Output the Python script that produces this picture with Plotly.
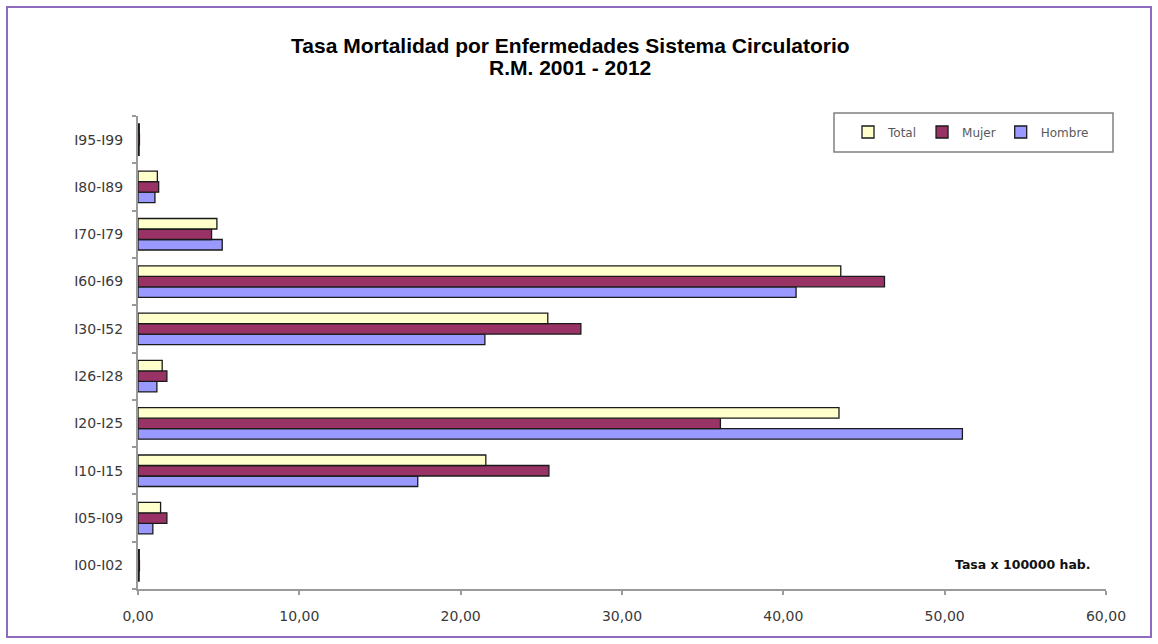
import plotly.graph_objects as go

# Cause-of-death groups (ICD-10 ranges), bottom to top
categorias = ["I00-I02", "I05-I09", "I10-I15", "I20-I25", "I26-I28",
              "I30-I52", "I60-I69", "I70-I79", "I80-I89", "I95-I99"]

# Rates per 100000 inhabitants
total = [0.08, 1.40, 21.56, 43.45, 1.50, 25.40, 43.56, 4.89, 1.20, 0.08]
mujer = [0.09, 1.79, 25.47, 36.10, 1.79, 27.45, 46.27, 4.56, 1.28, 0.09]
hombre = [0.07, 0.92, 17.34, 51.10, 1.17, 21.50, 40.79, 5.22, 1.05, 0.07]

series = [("Hombre", hombre, "#9999FF"),
          ("Mujer", mujer, "#993366"),
          ("Total", total, "#FFFFCC")]

W, H = 1158, 644
L, R, T, B = 138, 52, 116, 55
PW, PH = W - L - R, H - T - B


def px_x(x):
    return (x - L) / PW


def px_y(y):
    return (H - B - y) / PH


fig = go.Figure()
for nombre, valores, color in series:
    fig.add_trace(go.Bar(
        name=nombre, y=categorias, x=valores, orientation="h",
        marker=dict(color=color, line=dict(color="#1a1a1a", width=1.3)),
    ))

fig.update_layout(
    width=W, height=H, autosize=False,
    margin=dict(l=L, r=R, t=T, b=B, pad=0),
    paper_bgcolor="white", plot_bgcolor="white",
    barmode="group", bargap=0.333, bargroupgap=0,
    separators=",.",
    showlegend=True,
    legend=dict(
        orientation="h", traceorder="reversed",
        x=px_x(848), y=px_y(132), xanchor="left", yanchor="middle",
        bgcolor="rgba(0,0,0,0)", borderwidth=0,
        font=dict(family="DejaVu Sans", size=12, color="#5a5a5a"),
        itemclick=False,
    ),
    xaxis=dict(
        range=[0, 60], dtick=10, tickformat=".2f",
        showgrid=False, zeroline=False,
        showline=True, linecolor="#9a9a9a", linewidth=2,
        ticks="outside", ticklen=4, tickcolor="#9a9a9a", tickwidth=1.5,
        tickfont=dict(family="DejaVu Sans", size=14, color="#3a3a3a"),
        ticklabelstandoff=9,
    ),
    yaxis=dict(
        type="category", categoryorder="array", categoryarray=categorias,
        showgrid=False, zeroline=False,
        showline=True, linecolor="#9a9a9a", linewidth=2,
        ticks="outside", ticklen=4, tickcolor="#9a9a9a", tickwidth=1.5,
        tickson="boundaries",
        tickfont=dict(family="DejaVu Sans", size=14, color="#3a3a3a"),
        ticklabelstandoff=10,
    ),
    shapes=[
        # outer frame
        dict(type="rect", xref="paper", yref="paper",
             x0=px_x(7), x1=px_x(1151), y0=px_y(637), y1=px_y(7),
             line=dict(color="#8E6BBF", width=2), layer="below"),
        # legend box
        dict(type="rect", xref="paper", yref="paper",
             x0=px_x(834), x1=px_x(1113), y0=px_y(152), y1=px_y(113),
             line=dict(color="#808080", width=1.5), fillcolor="white",
             layer="below"),
    ],
    annotations=[
        dict(text="<b>Tasa Mortalidad por Enfermedades Sistema Circulatorio</b>",
             xref="paper", yref="paper", x=px_x(570), y=px_y(45),
             xanchor="center", yanchor="middle", showarrow=False,
             font=dict(family="Liberation Sans", size=21, color="#000000")),
        dict(text="<b>R.M. 2001 - 2012</b>",
             xref="paper", yref="paper", x=px_x(570), y=px_y(68),
             xanchor="center", yanchor="middle", showarrow=False,
             font=dict(family="Liberation Sans", size=21, color="#000000")),
        dict(text="<b>Tasa x 100000 hab.</b>",
             xref="paper", yref="paper", x=px_x(1093), y=px_y(564),
             xanchor="right", yanchor="middle", showarrow=False,
             font=dict(family="DejaVu Sans", size=12.5, color="#111111")),
    ],
)

fig.write_html("out.html")
